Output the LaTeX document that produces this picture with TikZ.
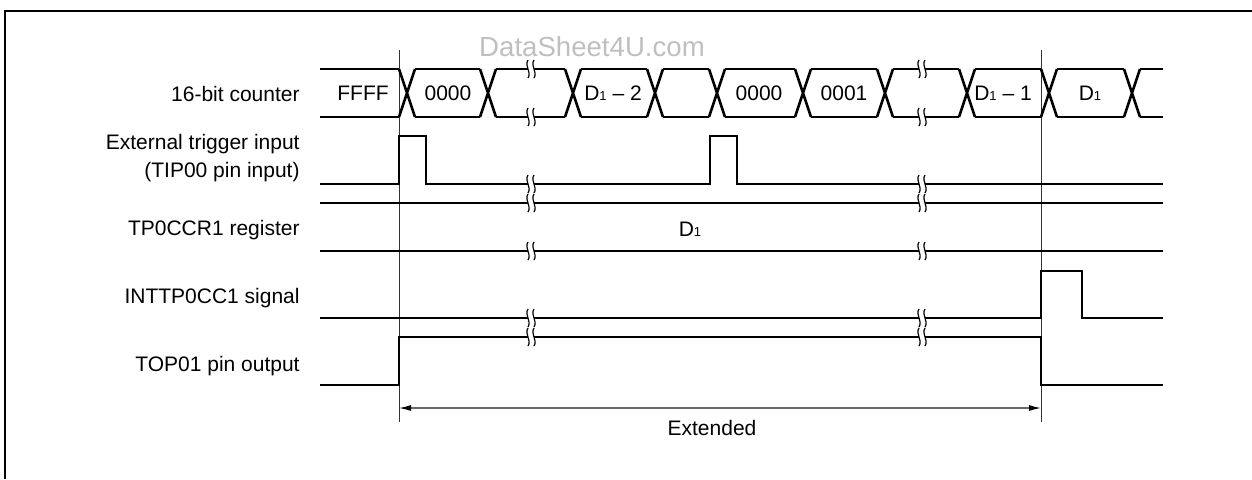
\documentclass[tikz,border=0pt]{standalone}
\usepackage{fontspec}
\setmainfont{Liberation Sans}
\usepackage{tikz}
\usetikzlibrary{arrows.meta}

\newcommand{\Dsub}{D{\fontsize{6.5}{7}\selectfont 1}}
\newcommand{\breakmark}[2]{%
  \fill[white] ({#1-3},{#2-9}) rectangle ({#1+3},{#2+9});
  \foreach \dx in {-3,3}
    \draw[brk] ({#1+\dx},{#2-9}) .. controls ({#1+\dx-4},{#2-3}) and ({#1+\dx+4},{#2+3}) .. ({#1+\dx},{#2+9});
}

\begin{document}
\begin{tikzpicture}[
    x=0.5pt, y=-0.5pt,
    sig/.style={line width=1.3pt, line join=miter},
    refline/.style={line width=0.5pt, black!80},
    brk/.style={line width=0.6pt},
    lbl/.style={anchor=east, align=right, inner sep=0pt,
                font=\fontsize{10.5}{14}\selectfont},
    val/.style={inner sep=0pt, font=\fontsize{10.5}{14}\selectfont},
    span/.style={{Latex[length=6pt,width=3pt,color=black]}-{Latex[length=6pt,width=3pt,color=black]},
                 line width=0.6pt, black!60},
]
\useasboundingbox (0,0) rectangle (1252,479);
\draw[line width=1.4pt] (5,479) -- (5,11) -- (1252,11);

\node[text=black!25, inner sep=0pt, font=\fontsize{13.8}{16}\selectfont] (mark) at (592,47) {DataSheet4U.com};

% signal names
\node[lbl] (lblcnt) at (300,94) {16-bit counter};
\node[lbl] (lbltrig) at (300,158) {External trigger input\\(TIP00 pin input)};
\node[lbl] (lblreg) at (300,230) {TP0CCR1 register};
\node[lbl] (lblint) at (300,298) {INTTP0CC1 signal};
\node[lbl] (lbltop) at (300,366) {TOP01 pin output};

% reference lines
\coordinate (ta) at (399,50);
\coordinate (tb) at (1041,50);
\draw[refline] (ta) -- (399,422);
\draw[refline] (tb) -- (1041,422);

% 16-bit counter
\foreach \a/\b in {320/399, 415/480, 496/565, 581/647, 663/709, 725/795, 811/877, 893/959, 975/1041, 1057/1124, 1140/1163}
    \draw[sig] (\a,69) -- (\b,69) (\a,117) -- (\b,117);
\foreach \c in {407, 488, 573, 655, 717, 803, 885, 967, 1049, 1132}
    \draw[sig] (\c-8,69) -- (\c+8,117) (\c-8,117) -- (\c+8,69);
\foreach \x/\t [count=\i] in {363/FFFF, 448/0000, 613/\Dsub\ \textendash\ 2, 759/0000, 844/0001, 1003/\Dsub\ \textendash\ 1, 1090/\Dsub}
    \node[val] (cv\i) at (\x,93) {\t};

% external trigger
\draw[sig] (320,184) -| (399,136) -| (426,184) -| (710,136) -| (737,184) -- (1163,184);

% compare register
\draw[sig] (320,203) -- (1163,203) (320,251) -- (1163,251);
\node[val] (regval) at (690,229) {\Dsub};

% interrupt
\draw[sig] (320,318) -| (1041,271) -| (1082,318) -- (1163,318);

% output pin
\draw[sig] (320,385) -| (399,337) -| (1041,385) -- (1163,385);

% breaks
\foreach \bx in {531, 922}
  \foreach \by in {69, 117, 184, 203, 251, 318, 337}
    \breakmark{\bx}{\by};

\coordinate (sa) at (399,408);
\coordinate (sb) at (1041,408);
\draw[span] (sa) -- (sb);
\node[val] (ext) at (712,428) {Extended};
\end{tikzpicture}
\end{document}
